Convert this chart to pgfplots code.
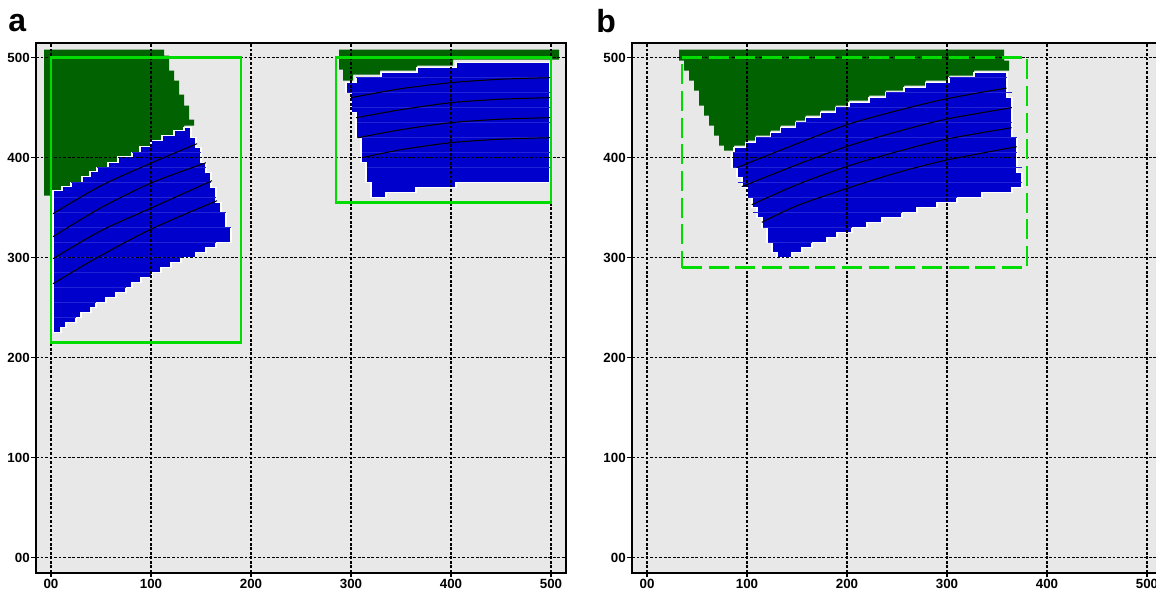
\documentclass[border=0pt]{standalone}
\usepackage{fontspec}
\setmainfont{Liberation Sans}
\usepackage{pgfplots}
\pgfplotsset{compat=1.18}
\definecolor{dkgreen}{RGB}{0,98,0}
\definecolor{myblue}{RGB}{0,0,204}
\definecolor{ltblue}{RGB}{34,34,214}
\definecolor{brgreen}{RGB}{0,220,0}
\definecolor{bggray}{RGB}{232,232,232}
\pgfplotsset{
 panel/.style={
  x=0.75pt, y=0.75pt,
  xmin=-15, xmax=515, ymin=-15, ymax=515,
  axis background/.style={fill=bggray},
  set layers, axis on top,
  xtick={0,100,...,500}, ytick={0,100,...,500},
  xticklabels={00,100,200,300,400,500}, yticklabels={00,100,200,300,400,500},
  grid=major,
  major grid style={black, line width=1.05pt, dash pattern=on 2.1pt off 1.3pt},
  tick align=outside, tick pos=left,
  major tick length=3.5pt,
  tick style={black, line width=0.9pt},
  axis line style={line width=1.6pt},
  ticklabel style={font=\fontsize{10}{12}\selectfont\bfseries},
  yticklabel style={inner sep=1pt},
  xticklabel style={inner sep=1pt},
  unbounded coords=jump,
 },
 grn/.style={fill=dkgreen, draw=none},
 blu/.style={fill=myblue, draw=white, line width=0.9pt},
 rows/.style={ltblue, line width=0.5pt},
 crv/.style={black, line width=0.75pt, smooth},
 rect/.style={brgreen, line width=2.2pt, line join=miter, on layer=axis foreground},
}
\begin{document}
\begin{tikzpicture}
\node[anchor=base west, inner sep=0] at (6pt,418.5pt) {\fontsize{24}{24}\selectfont\bfseries a};
\node[anchor=base west, inner sep=0] at (447pt,418pt) {\fontsize{24}{24}\selectfont\bfseries b};
% ---------------- panel a ----------------
\begin{axis}[panel, at={(27pt,12.975pt)}, anchor=south west]
\addplot[grn] coordinates {(-7,508) (113,508) (113,502) (118,502) (118,487) (123,487) (123,477) (128,477) (128,463) (133,463) (133,452) (138,452) (138,438) (143,438) (143,432) (133,432) (133,427) (123,427) (123,422) (111,422) (111,417) (100,417) (100,411) (89,411) (89,405) (81,405) (81,401) (67,401) (67,395) (57,395) (57,390) (46,390) (46,386) (39,386) (39,381) (31,381) (31,375) (20,375) (20,371) (11,371) (11,367) (2,367) (2,362) (-7,362)} -- cycle;
\addplot[blu] coordinates {(2,367) (11,367) (11,371) (20,371) (20,375) (31,375) (31,381) (39,381) (39,386) (46,386) (46,390) (57,390) (57,395) (67,395) (67,401) (81,401) (81,405) (89,405) (89,411) (100,411) (100,417) (111,417) (111,422) (123,422) (123,427) (133,427) (133,430) (140,430) (140,420) (145,420) (145,410) (150,410) (150,395) (155,395) (155,385) (160,385) (160,370) (165,370) (165,355) (170,355) (170,345) (175,345) (175,330) (180,330) (180,315) (165,315) (165,310) (155,310) (155,305) (145,305) (145,300) (130,300) (130,295) (120,295) (120,290) (110,290) (110,285) (101,285) (101,280) (90,280) (90,275) (81,275) (81,270) (75,270) (75,265) (65,265) (65,260) (55,260) (55,255) (45,255) (45,250) (40,250) (40,245) (30,245) (30,240) (25,240) (25,235) (15,235) (15,230) (10,230) (10,225) (2,225)} -- cycle;
\addplot[rows] coordinates {(81,405) (150,405) (0,nan) (46,390) (155,390) (0,nan) (20,375) (160,375) (0,nan) (3,360) (165,360) (0,nan) (3,345) (175,345) (0,nan) (3,330) (180,330) (0,nan) (3,315) (165,315) (0,nan) (3,300) (130,300) (0,nan) (3,285) (101,285) (0,nan) (3,270) (75,270) (0,nan) (3,255) (45,255) (0,nan) (3,240) (25,240)};
\addplot[crv] coordinates {(2,344) (50,372) (101,395) (146,414)};
\addplot[crv] coordinates {(2,321) (50,350) (101,375) (155,395)};
\addplot[crv] coordinates {(2,299) (50,327) (101,350) (161,377)};
\addplot[crv] coordinates {(2,274) (46,300) (101,329) (166,357)};
\addplot[grn] coordinates {(288,508) (508,508) (508,498) (402,498) (402,492) (366,492) (366,487) (329,487) (329,483) (302,483) (302,477) (292,477) (292,488) (288,488)} -- cycle;
\addplot[blu] coordinates {(295,475) (305,475) (305,480) (330,480) (330,485) (366,485) (366,490) (405,490) (405,495) (499,495) (499,375) (405,375) (405,370) (365,370) (365,365) (335,365) (335,360) (320,360) (320,375) (315,375) (315,395) (310,395) (310,420) (305,420) (305,445) (300,445) (300,465) (295,465)} -- cycle;
\addplot[rows] coordinates {(305,480) (499,480) (0,nan) (296,465) (499,465) (0,nan) (301,450) (499,450) (0,nan) (306,435) (499,435) (0,nan) (306,420) (499,420) (0,nan) (311,405) (499,405) (0,nan) (316,390) (499,390)};
\addplot[crv] coordinates {(300,460) (350,469) (400,475) (450,478.5) (499,480)};
\addplot[crv] coordinates {(305,440) (350,448) (400,455) (450,458.5) (499,460)};
\addplot[crv] coordinates {(307,420) (350,428) (400,435) (450,438.5) (499,440)};
\addplot[crv] coordinates {(311,400) (350,408) (400,415) (450,418.5) (499,420)};
\addplot[rect] coordinates {(0,215) (190,215) (190,500) (0,500)} -- cycle;
\addplot[rect] coordinates {(285,355) (500,355) (500,500) (285,500)} -- cycle;
\end{axis}
% ---------------- panel b ----------------
\begin{axis}[panel, at={(474pt,12.975pt)}, anchor=south west]
\addplot[grn] coordinates {(32,508) (357,508) (357,497) (362,497) (362,487) (327,487) (327,482) (302,482) (302,477) (278.7,477) (278.7,472) (257,472) (257,467) (238.7,467) (238.7,462) (222,462) (222,457) (202,457) (202,452) (188.7,452) (188.7,447) (173.7,447) (173.7,442) (158.7,442) (158.7,437) (148.7,437) (148.7,432) (133.7,432) (133.7,427) (123.7,427) (123.7,422) (108.7,422) (108.7,417) (98.7,417) (98.7,412) (87,412) (87,407) (77,407) (77,412) (72,412) (72,422) (67,422) (67,432) (62,432) (62,442) (57,442) (57,452) (52,452) (52,467) (47,467) (47,477) (42,477) (42,487) (37,487) (37,497) (32,497)} -- cycle;
\addplot[blu] coordinates {(85,405) (87,405) (87,410) (98.7,410) (98.7,415) (108.7,415) (108.7,420) (123.7,420) (123.7,425) (133.7,425) (133.7,430) (148.7,430) (148.7,435) (158.7,435) (158.7,440) (173.7,440) (173.7,445) (188.7,445) (188.7,450) (202,450) (202,455) (222,455) (222,460) (238.7,460) (238.7,465) (257,465) (257,470) (278.7,470) (278.7,475) (302,475) (302,480) (327,480) (327,485) (360,485) (360,460) (365,460) (365,420) (370,420) (370,385) (375,385) (375,370) (365,370) (365,365) (335,365) (335,360) (310,360) (310,355) (290,355) (290,350) (270,350) (270,345) (255,345) (255,340) (235,340) (235,335) (220,335) (220,330) (205,330) (205,325) (190,325) (190,320) (180,320) (180,315) (165,315) (165,310) (155,310) (155,305) (145,305) (145,300) (130,300) (130,305) (125,305) (125,315) (120,315) (120,330) (115,330) (115,340) (110,340) (110,350) (105,350) (105,360) (100,360) (100,370) (95,370) (95,380) (90,380) (90,390) (85,390)} -- cycle;
\addplot[rows] coordinates {(302,480) (360,480) (0,nan) (238.7,465) (365,465) (0,nan) (188.7,450) (365,450) (0,nan) (148.7,435) (365,435) (0,nan) (108.7,420) (370,420) (0,nan) (86,405) (370,405) (0,nan) (86,390) (375,390) (0,nan) (91,375) (375,375) (0,nan) (101,360) (310,360) (0,nan) (106,345) (255,345) (0,nan) (116,330) (205,330) (0,nan) (121,315) (165,315)};
\addplot[crv] coordinates {(89.7,390) (150,414) (200,433) (250,447) (300,459) (359.7,469.7)};
\addplot[crv] coordinates {(94.7,371) (150,393) (200,411.3) (250,426) (300,438.7) (364.7,450)};
\addplot[crv] coordinates {(104.7,353) (150,373) (200,391.3) (250,406) (300,418.7) (364.7,430)};
\addplot[crv] coordinates {(114.7,335.3) (150,352) (200,369.3) (250,385) (300,397.7) (369.7,411)};
\addplot[rect, dash pattern=on 15pt off 5pt] coordinates {(35,290) (380,290) (380,500) (35,500)} -- cycle;
\end{axis}
\pgfresetboundingbox
\useasboundingbox (0,0) rectangle (867pt,442.5pt);
\end{tikzpicture}
\end{document}
